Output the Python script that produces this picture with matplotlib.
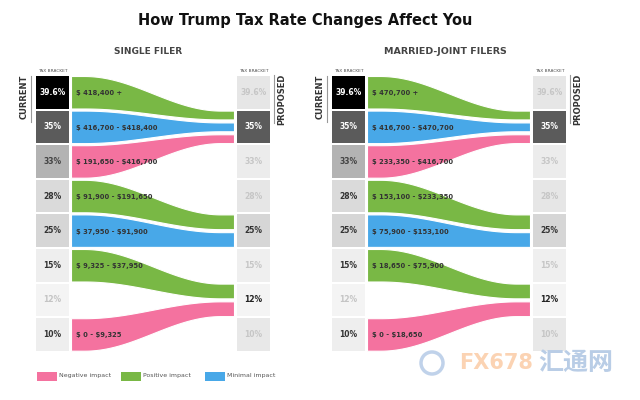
import numpy as np
import matplotlib
matplotlib.use("Agg")
import matplotlib.pyplot as plt
from matplotlib.patches import Rectangle, Circle

plt.rcParams["text.parse_math"] = False

# 數據
brackets = ["39.6%", "35%", "33%", "28%", "25%", "15%", "12%", "10%"]
single_ranges = ["$ 418,400 +", "$ 416,700 - $418,400", "$ 191,650 - $416,700",
                 "$ 91,900 - $191,650", "$ 37,950 - $91,900", "$ 9,325 - $37,950",
                 "", "$ 0 - $9,325"]
married_ranges = ["$ 470,700 +", "$ 416,700 - $470,700", "$ 233,350 - $416,700",
                  "$ 153,100 - $233,350", "$ 75,900 - $153,100", "$ 18,650 - $75,900",
                  "", "$ 0 - $18,650"]
proposed_to = [1, 1, 1, 4, 4, 6, None, 6]   # 對應新稅率的索引
impact = ["Positive", "Minimal", "Negative", "Positive", "Minimal", "Positive", None, "Negative"]
panels = ["SINGLE FILER", "MARRIED-JOINT FILERS"]
legend_labels = ["Negative impact", "Positive impact", "Minimal impact"]

# 樣式
impact_colors = {"Negative": "#f4729f", "Positive": "#79b845", "Minimal": "#48a8e8"}
cur_box = ["#000000", "#5b5b5b", "#b3b3b3", "#dadada", "#d6d6d6", "#eeeeee", "#f4f4f4", "#eeeeee"]
cur_txt = ["white", "white", "#444444", "#333333", "#333333", "#333333", "#c4c4c4", "#333333"]
new_box = ["#e6e6e6", "#5b5b5b", "#ececec", "#e6e6e6", "#d6d6d6", "#efefef", "#f4f4f4", "#e8e8e8"]
new_txt = ["#c6c6c6", "white", "#c6c6c6", "#c6c6c6", "#333333", "#c6c6c6", "#222222", "#c6c6c6"]

fig = plt.figure(figsize=(6.4, 4), dpi=100)
ax = fig.add_axes([0, 0, 1, 1])
ax.set_xlim(0, 640)
ax.set_ylim(400, 0)
ax.axis("off")

top, pitch, bh, bw = 76, 34.6, 32.5, 33
gap = 3


def smooth(t):
    s = np.clip((t - 0.08) / 0.84, 0, 1)
    return (1 - np.cos(np.pi * s)) / 2


ax.text(305, 21, "How Trump Tax Rate Changes Affect You", ha="center", va="center",
        fontsize=10.5, fontweight="bold", color="#111111")

for p, (px, ranges) in enumerate(zip([36, 332], [single_ranges, married_ranges])):
    fx0, fx1, rx = px + 35, px + 198, px + 201
    if p == 0:
        ax.text(148, 52, panels[p], fontsize=6.5, fontweight="bold", color="#444444",
                ha="center", va="center")
    else:
        ax.text(445, 52, panels[p], fontsize=6.8, fontweight="bold", color="#444444",
                ha="center", va="center")
    for bx in (px, rx):
        ax.text(bx + bw / 2, 71, "TAX BRACKET", fontsize=3.2, ha="center", va="center", color="#555555")
    # CURRENT / PROPOSED
    ax.text(px - 12, 97, "CURRENT", rotation=90, fontsize=6, fontweight="bold",
            ha="center", va="center", color="#333333")
    ax.plot([px - 5, px - 5], [76, 122], color="#999999", lw=0.8)
    ax.text(rx + bw + 12, 99, "PROPOSED", rotation=90, fontsize=6, fontweight="bold",
            ha="center", va="center", color="#333333")
    ax.plot([rx + bw + 4, rx + bw + 4], [75, 123], color="#999999", lw=0.8)

    for i, b in enumerate(brackets):
        y = top + i * pitch
        ax.add_patch(Rectangle((px, y), bw, bh, color=cur_box[i], lw=0))
        ax.text(px + bw / 2, y + bh / 2, b, ha="center", va="center", fontsize=5.5,
                fontweight="bold", color=cur_txt[i])
        ax.add_patch(Rectangle((rx, y), bw, bh, color=new_box[i], lw=0))
        ax.text(rx + bw / 2, y + bh / 2, b, ha="center", va="center", fontsize=5.5,
                fontweight="bold", color=new_txt[i])

    # 流向
    for j in set(t for t in proposed_to if t is not None):
        srcs = [i for i, t in enumerate(proposed_to) if t == j]
        n = len(srcs)
        h = (bh - gap * (n - 1)) / n
        for k, i in enumerate(srcs):
            y0 = top + i * pitch
            y1 = top + j * pitch + k * (h + gap)
            xs = np.linspace(fx0, fx1, 200)
            s = smooth((xs - fx0) / (fx1 - fx0))
            upper = y0 + (y1 - y0) * s
            lower = (y0 + bh) + (y1 + h - y0 - bh) * s
            ax.fill_between(xs, upper, lower, color=impact_colors[impact[i]],
                            edgecolor="white", lw=0.8)
            ax.text(fx0 + 5, y0 + bh / 2 + 1, ranges[i], fontsize=4.9, fontweight="bold",
                    va="center", color="#333333")

# 圖例
for k, (lab, key) in enumerate(zip(legend_labels, ["Negative", "Positive", "Minimal"])):
    lx = 37 + k * 84
    ax.add_patch(Rectangle((lx, 371.5), 20, 9, color=impact_colors[key], lw=0))
    ax.text(lx + 22, 376, lab, fontsize=4.5, va="center", color="#555555")

# 水印
ax.add_patch(Circle((432, 363), 11, fill=False, ec="#c0d2ea", lw=2.5))
ax.text(459, 363, "FX678", fontsize=15, fontweight="bold", va="center", color="#fbc8a0", alpha=0.8)
ax.text(538, 363, "汇通网", fontsize=18, fontweight="bold", va="center", color="#b9cde6",
        family=["Noto Sans CJK SC", "DejaVu Sans"])

fig.savefig("out.png", dpi=100)
